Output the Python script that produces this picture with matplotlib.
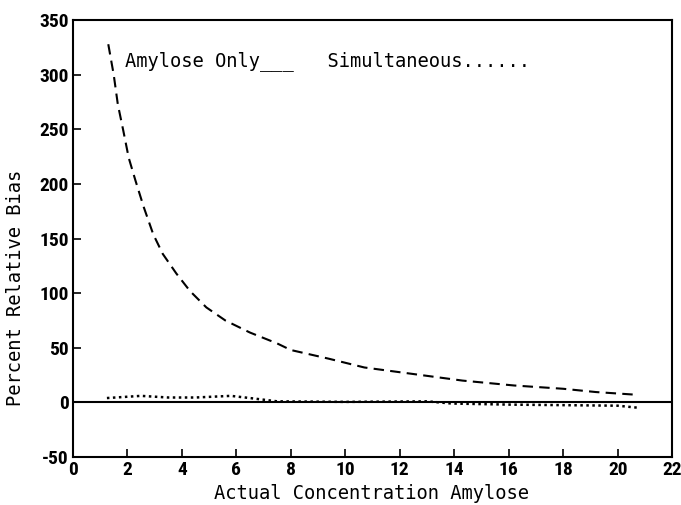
import numpy as np
import matplotlib.pyplot as plt
from matplotlib import font_manager

plt.rcParams['axes.unicode_minus'] = False

# amylose only (dashed)
x_only = [1.3, 1.5, 1.65, 1.85, 2.05, 2.3, 2.6, 2.95, 3.3, 3.8, 4.3, 4.9, 5.6,
          6.5, 7.5, 8.0, 9.4, 10.7, 12.5, 14.3, 16.2, 18.0, 19.2, 20.7]
y_only = [328, 300, 273, 249, 224, 203, 179, 154, 136, 118, 102, 87, 75,
          64, 54, 48, 40, 32, 26, 20, 15.5, 12.5, 9.5, 7]

# simultaneous (dotted)
x_sim = [1.25, 2.5, 3.5, 4.5, 5.8, 6.5, 7.5, 10.0, 13.0, 13.9, 16.0, 18.0, 20.0, 20.8]
y_sim = [4, 6, 4.5, 4.5, 6, 4, 1, 0.5, 1, -1, -2, -2.5, -3, -5]

names = {f.name for f in font_manager.fontManager.ttflist}
narrow = [n for n in ['Liberation Sans Narrow', 'DejaVu Sans Condensed', 'Roboto Condensed']
          if n in names]
tick_family = narrow[0] if narrow else 'DejaVu Sans'
tick_size = 14 if narrow else 12

fig = plt.figure(figsize=(6.81, 5.05), dpi=100)
ax = fig.add_axes([0.107, 0.095, 0.880, 0.865])

ax.plot(x_only, y_only, color='black', lw=1.5, linestyle=(0, (5, 3)))
ax.plot(x_sim, y_sim, color='black', lw=1.8, linestyle=(0, (1, 1.4)))
ax.axhline(0, color='black', lw=1.5)

ax.set_xlim(0, 22)
ax.set_ylim(-50, 350)
ax.set_xticks(np.arange(0, 23, 2))
ax.set_yticks(np.arange(-50, 351, 50))
ax.tick_params(direction='in', length=6, width=1.2, pad=3)
for lab in ax.get_xticklabels() + ax.get_yticklabels():
    lab.set_family(tick_family)
    lab.set_fontsize(tick_size)
    lab.set_fontweight('bold')
for s in ax.spines.values():
    s.set_linewidth(1.5)

mono = 'DejaVu Sans Mono'
ax.set_xlabel('Actual Concentration Amylose', fontsize=13.5, family=mono)
ax.set_ylabel('Percent Relative Bias', fontsize=13.5, family=mono)
ax.xaxis.set_label_coords(0.498, -0.062)
ax.yaxis.set_label_coords(-0.080, 0.387)

ax.text(1.9, 313, 'Amylose Only___   Simultaneous......', fontsize=13.5,
        family=mono, va='center')

fig.savefig('out.png', dpi=100)
